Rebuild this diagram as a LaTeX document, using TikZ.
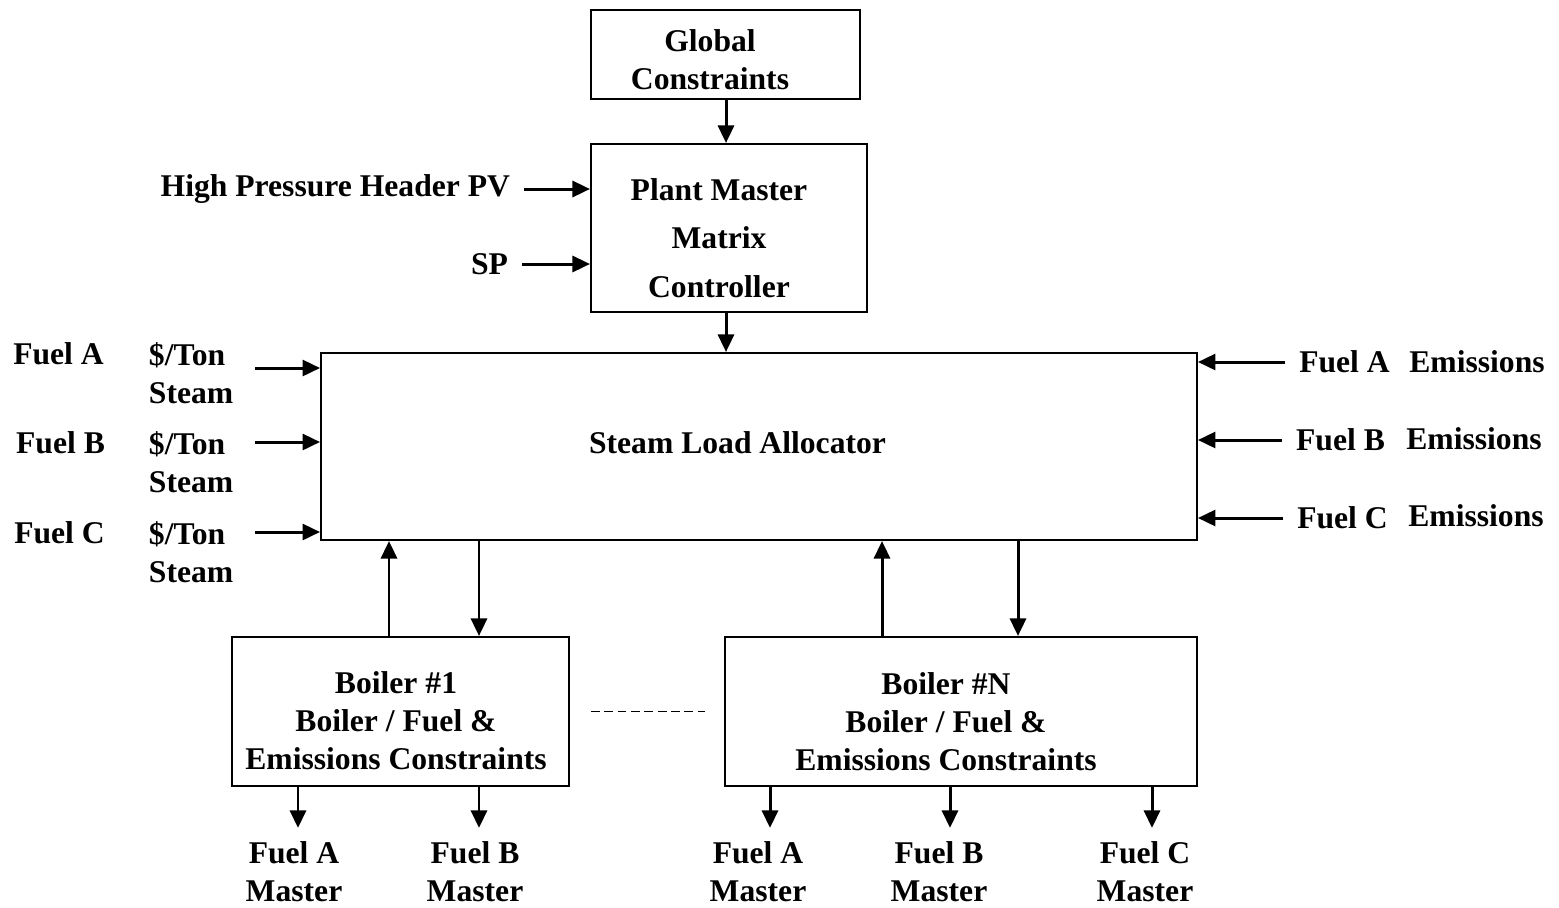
\documentclass[tikz,border=0pt]{standalone}
\usepackage{fontspec}
\setmainfont{Liberation Serif}
\usetikzlibrary{arrows.meta}

\begin{document}
\begin{tikzpicture}[x=0.02cm, y=-0.02cm, line width=1.2pt,
    arr/.style={line width=1.7pt, -{Triangle[length=0.35cm,width=0.32cm]}}]

  \useasboundingbox (0,0) rectangle (1559,907);

  % boxes
  \begin{scope}[every node/.style={draw, inner sep=0pt}]
    \node[minimum width=5.38cm, minimum height=1.78cm]  (gc)  at (725.5,54.5)  {};
    \node[minimum width=5.52cm, minimum height=3.36cm]  (pm)  at (729,228)     {};
    \node[minimum width=17.52cm, minimum height=3.74cm] (sla) at (759,446.5)   {};
    \node[minimum width=6.74cm, minimum height=2.98cm]  (b1)  at (400.5,711.5) {};
    \node[minimum width=9.44cm, minimum height=2.98cm]  (bN)  at (961,711.5)   {};
  \end{scope}

  % texts
  \begin{scope}[every node/.style={font=\fontsize{18}{21.6}\selectfont\bfseries,
      align=center, inner sep=0pt, outer sep=0.28cm}]
    \node (gct)  at (710,60)   {Global\\Constraints};
    \node (pmt)  at (719,238)  {Plant Master\\[6pt]Matrix\\[6pt]Controller};
    \node (slat) at (737.5,443) {Steam Load Allocator};
    \node (b1t)  at (396,721)  {Boiler \#1\\Boiler / Fuel \&\\Emissions Constraints};
    \node (bNt)  at (946,722)  {Boiler \#N\\Boiler / Fuel \&\\Emissions Constraints};

    \node[anchor=east] (hp) at (524,189) {High Pressure Header PV};
    \node[anchor=east] (sp) at (522,264) {SP};

    \node (la) at (58.5,354) {Fuel A};
    \node (lb) at (60.5,443) {Fuel B};
    \node (lc) at (59.5,533) {Fuel C};
    \node[anchor=west, align=left] (ca) at (135,373.5) {\$/Ton\\Steam};
    \node[anchor=west, align=left] (cb) at (135,462.5) {\$/Ton\\Steam};
    \node[anchor=west, align=left] (cc) at (135,552.5) {\$/Ton\\Steam};

    \node (ea) at (1344.5,362) {Fuel A};
    \node (eb) at (1340.5,440) {Fuel B};
    \node (ec) at (1342.5,518) {Fuel C};
    \node (ma) at (1477,362) {Emissions};
    \node (mb) at (1474,439) {Emissions};
    \node (mc) at (1476,516) {Emissions};

    \node (fa1) at (294,872)  {Fuel A\\Master};
    \node (fb1) at (475,872)  {Fuel B\\Master};
    \node (faN) at (758,872)  {Fuel A\\Master};
    \node (fbN) at (939,872)  {Fuel B\\Master};
    \node (fcN) at (1145,872) {Fuel C\\Master};
  \end{scope}

  \coordinate (ia) at (255,368);
  \coordinate (ib) at (255,442);
  \coordinate (ic) at (255,532);

  % connectors
  \begin{scope}[every path/.style={arr}]
    \draw (gc.south -| 726,0) -- (pm.north -| 726,0);
    \draw (pm.south -| 726,0) -- (sla.north -| 726,0);
    \draw (hp) -- (hp -| pm.west);
    \draw (sp) -- (sp -| pm.west);
    \draw (ia) -- (ia -| sla.west);
    \draw (ib) -- (ib -| sla.west);
    \draw (ic) -- (ic -| sla.west);
    \draw (ea) -- (ea -| sla.east);
    \draw (eb) -- (eb -| sla.east);
    \draw (ec) -- (ec -| sla.east);
    \draw (b1.north -| 389,0) -- (sla.south -| 389,0);
    \draw (sla.south -| 479,0) -- (b1.north -| 479,0);
    \draw (bN.north -| 882,0) -- (sla.south -| 882,0);
    \draw (sla.south -| 1018,0) -- (bN.north -| 1018,0);
    \draw (b1.south -| 298,0) -- (fa1.north -| 298,0);
    \draw (b1.south -| 479,0) -- (fb1.north -| 479,0);
    \draw (bN.south -| 770,0) -- (faN.north -| 770,0);
    \draw (bN.south -| 950,0) -- (fbN.north -| 950,0);
    \draw (bN.south -| 1152,0) -- (fcN.north -| 1152,0);
  \end{scope}

  \draw[line width=1pt, dash pattern=on 5pt off 2.6pt]
    (b1.east -| 591,0) -- (bN.west -| 705,0);

\end{tikzpicture}
\end{document}
